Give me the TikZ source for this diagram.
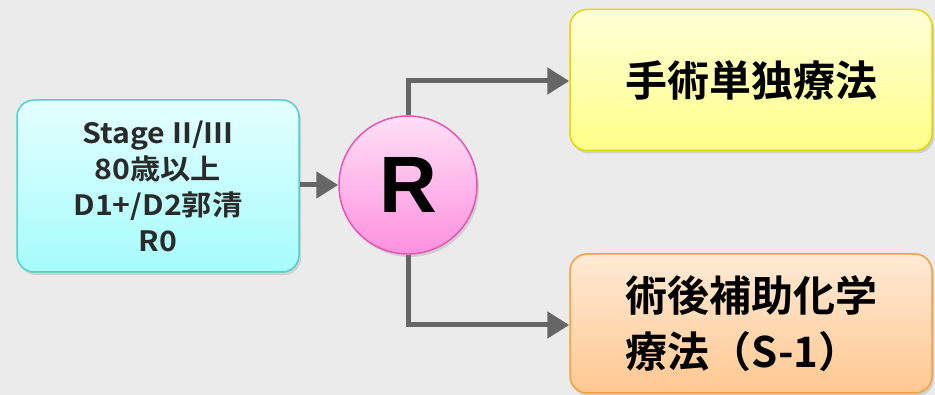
\documentclass[tikz,border=0pt]{standalone}
\usepackage{fontspec}
\newfontfamily\jp{Noto Sans CJK JP}[BoldFont={Noto Sans CJK JP Bold}]
\newfontfamily\jpw{Noto Sans CJK JP Bold}[FakeStretch=1.08]
\newfontfamily\rsans{Liberation Sans}
\usetikzlibrary{arrows.meta,shadows,positioning}
\definecolor{bg}{HTML}{EBEBEB}
\definecolor{arr}{HTML}{666666}
\definecolor{cyT}{HTML}{E4FFFF}\definecolor{cyB}{HTML}{A6FCFC}\definecolor{cyD}{HTML}{52D0D0}
\definecolor{pkT}{HTML}{FFE0F6}\definecolor{pkB}{HTML}{FF90DE}\definecolor{pkD}{HTML}{E455B4}
\definecolor{yeT}{HTML}{FFFFD8}\definecolor{yeB}{HTML}{FFFF88}\definecolor{yeD}{HTML}{E6D600}
\definecolor{orT}{HTML}{FFEAD6}\definecolor{orB}{HTML}{FFC890}\definecolor{orD}{HTML}{F4A040}
\definecolor{txt}{HTML}{2A2A2A}
\tikzset{
  box/.style={rounded corners=17pt, line width=1.5pt, inner sep=0pt,
    drop shadow={shadow xshift=2pt,shadow yshift=-3pt,opacity=0.25}},
  conn/.style={draw=arr, line width=5pt, -{Triangle[length=22pt,width=26pt]}},
}
\begin{document}
\begin{tikzpicture}[x=1pt,y=-1pt]
\fill[bg] (0,0) rectangle (935,395);
\useasboundingbox (0,0) rectangle (935,395);
% left box
\node[box, draw=cyD, top color=cyT, bottom color=cyB, minimum width=282pt, minimum height=172pt,
  align=center, font=\jpw\fontsize{28}{36}\selectfont, text=txt] (cond) at (158,186)
  {Stage II/III\\80歳以上\\D1+/D2郭清\\R0};
% circle
\node[circle, draw=pkD, line width=1.5pt, top color=pkT, bottom color=pkB, minimum size=138pt, inner sep=0pt,
  drop shadow={shadow xshift=2pt,shadow yshift=-3pt,opacity=0.25},
  font=\rsans\bfseries\fontsize{80}{80}\selectfont] (r) at (408,185) {R};
% top box
\node[box, draw=yeD, top color=yeT, bottom color=yeB, minimum width=362pt, minimum height=141pt,
  font=\jp\bfseries\fontsize{42}{48}\selectfont] (surg) at (751,80) {手術単独療法};
% bottom box
\node[box, draw=orD, top color=orT, bottom color=orB, minimum width=362pt, minimum height=139pt,
  align=left, font=\jp\bfseries\fontsize{42}{56}\selectfont] (chemo) at (751,323.5)
  {術後補助化学\\療法（S-1）};
% connectors
\draw[conn] (cond.east |- r) -- (r.west);
\coordinate (t1) at (408,81);
\coordinate (b1) at (408,325);
\draw[conn] (r.north) -- (t1) -- (t1 -| surg.west);
\draw[conn] (r.south) -- (b1) -- (b1 -| chemo.west);
\end{tikzpicture}
\end{document}
